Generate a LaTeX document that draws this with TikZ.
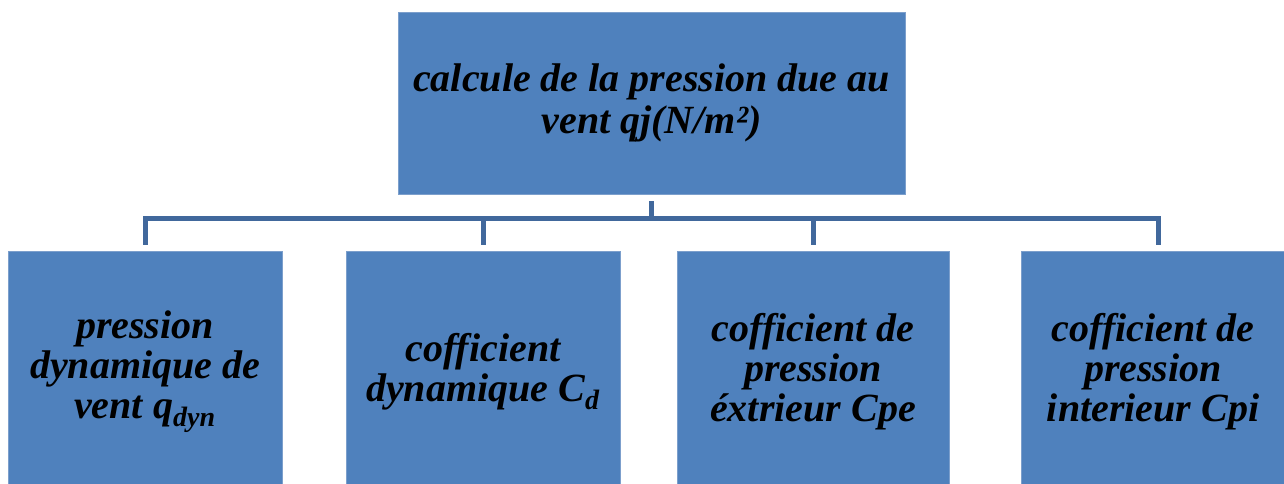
\documentclass[tikz,border=0pt]{standalone}
\usepackage{fontspec}
\setmainfont{Liberation Serif}
\definecolor{boxfill}{HTML}{4F81BD}
\definecolor{boxline}{HTML}{7C9FCC}
\definecolor{wire}{HTML}{41689C}
\begin{document}
\begin{tikzpicture}[x=0.75pt,y=-0.75pt,
  box/.style={rectangle, fill=boxfill, draw=boxline, line width=0.6pt,
    align=center, inner sep=0pt, font=\bfseries\itshape},
  topbox/.style={box, minimum width=380.25pt, minimum height=136.5pt,
    font=\bfseries\itshape\fontsize{30}{32}\selectfont},
  leaf/.style={box, minimum height=181.5pt,
    font=\bfseries\itshape\fontsize{30}{30}\selectfont},
  wireline/.style={draw=wire, line width=3.75pt, line join=miter}]
\useasboundingbox (0,0) rectangle (1284,483);
\fill[white] (0,0) rectangle (1284,483);

% root box
\node[topbox] (top) at (651.5,103) {calcule de la pression due au\\vent qj(N/m²)};

% four leaf boxes (they run past the lower edge)
\node[leaf, minimum width=205.5pt] (c1) at (145,372) {pression\\dynamique de\\vent q\textsubscript{dyn}};
\node[leaf, minimum width=205.5pt] (c2) at (483,372) {cofficient\\dynamique C\textsubscript{d}};
\node[leaf, minimum width=204pt] (c3) at (813,372) {cofficient de\\pression\\éxtrieur Cpe};
\node[leaf, minimum width=198pt] (c4) at (1153,372) {cofficient de\\pression\\interieur Cpi};

% connector bus
\coordinate (bus) at (651,218);
\draw[wireline] ([yshift=-5.25pt]top.south) -- (top.south |- bus);
\draw[wireline] ([yshift=4.5pt]c1.north) -- (c1.north |- bus) -- (1158,218) -- (1158,245);
\draw[wireline] ([yshift=4.5pt]c2.north) -- (c2.north |- bus);
\draw[wireline] ([yshift=4.5pt]c3.north) -- (c3.north |- bus);
\end{tikzpicture}
\end{document}
